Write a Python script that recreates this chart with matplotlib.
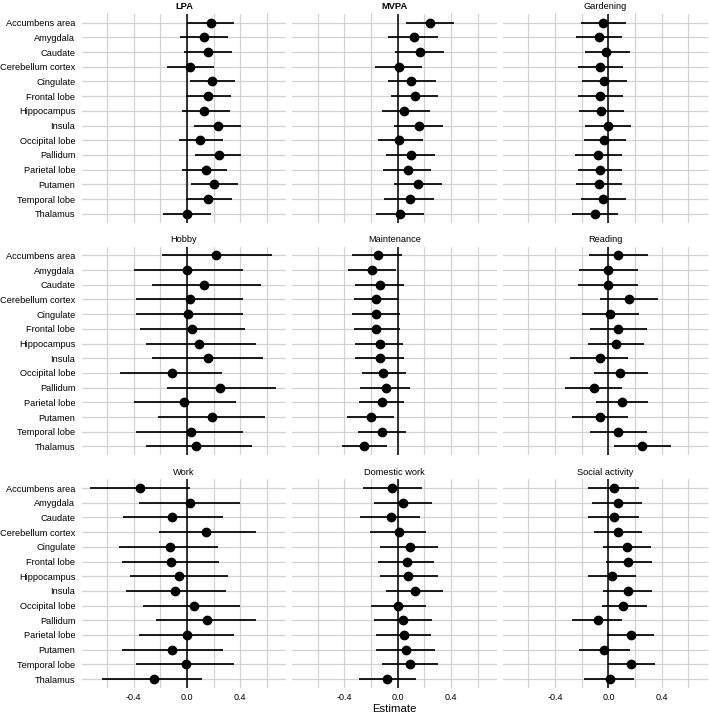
import numpy as np
import matplotlib
matplotlib.use("Agg")
import matplotlib.pyplot as plt

plt.rcParams['font.family'] = ['Liberation Sans', 'DejaVu Sans']

regions = [
    "Accumbens area", "Amygdala", "Caudate", "Cerebellum cortex", "Cingulate",
    "Frontal lobe", "Hippocampus", "Insula", "Occipital lobe", "Pallidum",
    "Parietal lobe", "Putamen", "Temporal lobe", "Thalamus",
]

activities = ["LPA", "MVPA", "Gardening", "Hobby", "Maintenance", "Reading",
              "Work", "Domestic work", "Social activity"]

# estimates, lower and upper confidence limits per activity (region order above)
lpa_est = [0.18, 0.13, 0.16, 0.02, 0.19, 0.16, 0.13, 0.23, 0.10, 0.24, 0.14, 0.20, 0.16, 0.00]
lpa_lo = [0.00, -0.05, -0.02, -0.15, 0.02, -0.01, -0.04, 0.05, -0.06, 0.06, -0.04, 0.03, -0.01, -0.18]
lpa_hi = [0.35, 0.31, 0.34, 0.20, 0.36, 0.33, 0.32, 0.41, 0.27, 0.41, 0.30, 0.38, 0.34, 0.18]

mvpa_est = [0.24, 0.12, 0.17, 0.01, 0.10, 0.13, 0.05, 0.16, 0.01, 0.10, 0.075, 0.15, 0.09, 0.02]
mvpa_lo = [0.06, -0.07, -0.02, -0.17, -0.07, -0.05, -0.12, -0.03, -0.15, -0.09, -0.11, -0.03, -0.10, -0.16]
mvpa_hi = [0.42, 0.30, 0.35, 0.18, 0.29, 0.30, 0.24, 0.34, 0.19, 0.28, 0.25, 0.33, 0.27, 0.20]

gard_est = [-0.04, -0.07, -0.02, -0.06, -0.03, -0.06, -0.055, 0.00, -0.03, -0.08, -0.06, -0.07, -0.04, -0.10]
gard_lo = [-0.205, -0.24, -0.175, -0.225, -0.195, -0.225, -0.22, -0.175, -0.185, -0.25, -0.225, -0.24, -0.205, -0.27]
gard_hi = [0.13, 0.10, 0.16, 0.11, 0.14, 0.11, 0.12, 0.17, 0.13, 0.10, 0.10, 0.10, 0.13, 0.07]

hobby_est = [0.215, 0.00, 0.13, 0.02, 0.01, 0.04, 0.09, 0.16, -0.11, 0.25, -0.02, 0.19, 0.03, 0.07]
hobby_lo = [-0.185, -0.40, -0.26, -0.38, -0.38, -0.35, -0.31, -0.26, -0.50, -0.15, -0.40, -0.22, -0.38, -0.31]
hobby_hi = [0.64, 0.42, 0.56, 0.42, 0.42, 0.44, 0.52, 0.57, 0.26, 0.67, 0.37, 0.59, 0.42, 0.49]

maint_est = [-0.145, -0.19, -0.135, -0.16, -0.16, -0.16, -0.13, -0.135, -0.11, -0.09, -0.12, -0.20, -0.12, -0.25]
maint_lo = [-0.34, -0.37, -0.32, -0.33, -0.34, -0.33, -0.32, -0.32, -0.27, -0.28, -0.29, -0.38, -0.30, -0.42]
maint_hi = [0.03, -0.01, 0.05, 0.01, 0.02, 0.02, 0.04, 0.05, 0.06, 0.09, 0.05, -0.03, 0.06, -0.08]

read_est = [0.07, 0.00, 0.00, 0.155, 0.015, 0.07, 0.06, -0.065, 0.09, -0.105, 0.10, -0.065, 0.07, 0.25]
read_lo = [-0.145, -0.22, -0.225, -0.06, -0.195, -0.135, -0.155, -0.29, -0.105, -0.325, -0.095, -0.275, -0.135, 0.04]
read_hi = [0.30, 0.22, 0.22, 0.37, 0.23, 0.29, 0.27, 0.15, 0.30, 0.10, 0.30, 0.15, 0.29, 0.47]

work_est = [-0.35, 0.02, -0.11, 0.14, -0.13, -0.12, -0.06, -0.09, 0.05, 0.15, 0.00, -0.11, -0.01, -0.25]
work_lo = [-0.73, -0.36, -0.48, -0.21, -0.51, -0.49, -0.43, -0.46, -0.33, -0.23, -0.36, -0.49, -0.38, -0.64]
work_hi = [0.02, 0.40, 0.27, 0.52, 0.23, 0.24, 0.31, 0.29, 0.40, 0.52, 0.35, 0.27, 0.35, 0.11]

dom_est = [-0.04, 0.04, -0.05, 0.01, 0.09, 0.07, 0.08, 0.13, 0.00, 0.04, 0.05, 0.06, 0.09, -0.08]
dom_lo = [-0.26, -0.18, -0.28, -0.21, -0.13, -0.15, -0.13, -0.09, -0.20, -0.18, -0.16, -0.16, -0.12, -0.29]
dom_hi = [0.18, 0.26, 0.17, 0.21, 0.30, 0.27, 0.30, 0.34, 0.21, 0.26, 0.25, 0.28, 0.30, 0.14]

soc_est = [0.04, 0.07, 0.04, 0.07, 0.14, 0.15, 0.03, 0.15, 0.11, -0.08, 0.17, -0.03, 0.17, 0.01]
soc_lo = [-0.15, -0.12, -0.15, -0.11, -0.04, -0.02, -0.15, -0.04, -0.05, -0.27, -0.01, -0.22, 0.00, -0.18]
soc_hi = [0.23, 0.25, 0.23, 0.25, 0.32, 0.33, 0.21, 0.33, 0.29, 0.10, 0.34, 0.16, 0.35, 0.19]

estimates = [lpa_est, mvpa_est, gard_est, hobby_est, maint_est, read_est, work_est, dom_est, soc_est]
lowers = [lpa_lo, mvpa_lo, gard_lo, hobby_lo, maint_lo, read_lo, work_lo, dom_lo, soc_lo]
uppers = [lpa_hi, mvpa_hi, gard_hi, hobby_hi, maint_hi, read_hi, work_hi, dom_hi, soc_hi]

W, H = 709, 715
fig, axes = plt.subplots(3, 3, sharex=True, sharey=True, figsize=(W / 100, H / 100), dpi=100)
fig.subplots_adjust(left=81.7 / W, right=707.6 / W, top=1 - 13.9 / H, bottom=1 - 687.9 / H,
                    wspace=0.031, hspace=0.115)

ypos = np.arange(len(regions))
grid_c = "#d2d2d2"
txt_c = "black"

for i, ax in enumerate(axes.flat):
    est = np.array(estimates[i])
    lo = np.array(lowers[i])
    hi = np.array(uppers[i])

    ax.hlines(ypos, lo, hi, color="black", lw=1.25, zorder=3)
    ax.plot(est, ypos, "o", color="black", ms=6, zorder=4)
    ax.axvline(0, color="black", lw=1.1, zorder=2)

    ax.set_xlim(-0.79, 0.745)
    ax.set_ylim(len(regions) - 0.4, -0.6)
    ax.set_xticks([-0.4, 0.0, 0.4])
    ax.set_xticks([-0.6, -0.2, 0.2, 0.6], minor=True)
    ax.set_yticks(ypos)
    ax.set_yticklabels(regions)
    ax.grid(True, which="both", color=grid_c, lw=0.9, zorder=0)
    ax.set_axisbelow(True)
    for s in ax.spines.values():
        s.set_visible(False)
    ax.tick_params(which="both", length=0)
    ax.tick_params(axis="y", labelsize=6.7, pad=4.5, labelcolor=txt_c)
    ax.tick_params(axis="x", labelsize=6.5, pad=3.5, labelcolor=txt_c)

    weight = "bold" if activities[i] in ("LPA", "MVPA") else "normal"
    ax.set_title(activities[i], fontsize=6.7, pad=3.2, color=txt_c, fontweight=weight)

for ax in axes[-1]:
    ax.set_xticklabels(["-0.4", "0.0", "0.4"])

axes[-1, 1].set_xlabel("Estimate", fontsize=8.2, labelpad=1.5, color=txt_c)

fig.savefig("out.png", dpi=100)
